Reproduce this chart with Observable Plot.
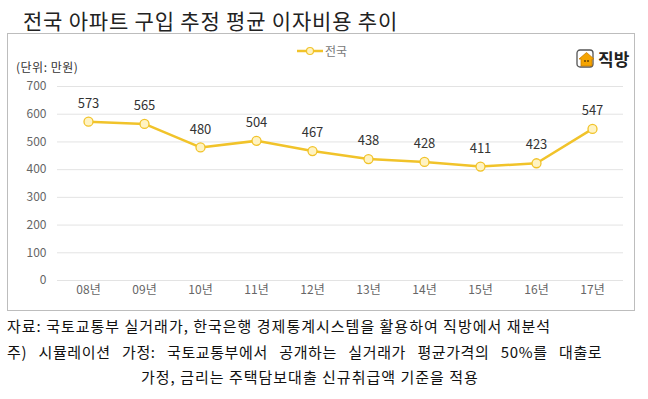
<!DOCTYPE html>
<html>
<head>
<meta charset="utf-8">
<script src="https://cdn.jsdelivr.net/npm/d3@7"></script>
<script src="https://cdn.jsdelivr.net/npm/@observablehq/plot@0.6"></script>
<style>
  html, body { margin: 0; padding: 0; background: #fff; }
  body { width: 648px; height: 399px; position: relative; overflow: hidden;
         font-family: "Noto Sans CJK KR", "Noto Sans", sans-serif; color: #222; }
  #title { position: absolute; left: 23px; top: 5px; font-size: 21px; letter-spacing: 0.8px; color: #222; white-space: nowrap; }
  #box { position: absolute; left: 7px; top: 33px; width: 626px; height: 276px; border: 1px solid #bdbdbd; }
  #chart { position: absolute; left: 0; top: 0; }
  #unit { position: absolute; left: 16px; top: 58px; font-size: 12px; color: #333; white-space: nowrap; letter-spacing: 0.5px; }
  #legend { position: absolute; left: 297px; top: 42px; font-size: 12px; color: #777; white-space: nowrap; display: flex; align-items: center; }
  #logo { position: absolute; left: 576px; top: 46px; display: flex; align-items: center; }
  #logo span { font-size: 17px; font-weight: 700; color: #222; margin-left: 3px; }
  .cap { position: absolute; font-size: 15px; color: #111; white-space: nowrap; }
</style>
</head>
<body>
<div id="title">전국 아파트 구입 추정 평균 이자비용 추이</div>
<div id="box"></div>
<div id="chart"></div>
<div id="unit">(단위: 만원)</div>
<div id="legend">
  <svg width="27" height="10"><line x1="0" y1="5" x2="26" y2="5" stroke="#f1c32a" stroke-width="2.5"/><circle cx="13" cy="5" r="3.5" fill="#fff3c2" stroke="#f1c32a" stroke-width="1.2"/></svg>
  <span style="margin-left:1px">전국</span>
</div>
<div id="logo">
  <svg width="19" height="19" viewBox="0 0 19 19">
    <rect x="1" y="1" width="16" height="17" rx="3" fill="#fff" stroke="#555" stroke-width="1.3"/>
    <path d="M3 10 L10.5 3.5 L18 10 L16 10 L16 17 L5 17 L5 10 Z" fill="#f5a400" stroke="#c97d00" stroke-width="0.8"/>
    <circle cx="9" cy="12" r="0.9" fill="#5a3a00"/><circle cx="12" cy="12" r="0.9" fill="#5a3a00"/>
  </svg>
  <span>직방</span>
</div>
<div class="cap" style="left:7px; top:315px; letter-spacing:1px;">자료: 국토교통부 실거래가, 한국은행 경제통계시스템을 활용하여 직방에서 재분석</div>
<div class="cap" style="left:7px; top:341px; letter-spacing:0.6px; word-spacing:7.5px;">주) 시뮬레이션 가정: 국토교통부에서 공개하는 실거래가 평균가격의 50%를 대출로</div>
<div class="cap" style="left:141px; top:366px; letter-spacing:1px;">가정, 금리는 주택담보대출 신규취급액 기준을 적용</div>
<script>
const years = ["08년","09년","10년","11년","12년","13년","14년","15년","16년","17년"];
const values = [573, 565, 480, 504, 467, 438, 428, 411, 423, 547];
const yTicks = [0, 100, 200, 300, 400, 500, 600, 700];

const data = years.map((y, i) => ({year: y, value: values[i]}));
const gold = "#f1c32a";

const chart = Plot.plot({
  width: 648,
  height: 310,
  marginTop: 86,
  marginBottom: 30,
  marginLeft: 57,
  marginRight: 25,
  style: {background: "transparent", fontFamily: "'Noto Sans CJK KR', sans-serif"},
  x: {type: "point", domain: years, padding: 0.5},
  y: {domain: [0, 700]},
  marks: [
    Plot.ruleY(yTicks, {stroke: "#e3e3e3", strokeWidth: 1}),
    Plot.axisY({ticks: yTicks, tickSize: 0, tickPadding: 11, label: null, fontSize: 12, color: "#666"}),
    Plot.axisX({tickSize: 0, tickPadding: 5, label: null, fontSize: 12, color: "#666"}),
    Plot.line(data, {x: "year", y: "value", stroke: gold, strokeWidth: 2.5}),
    Plot.dot(data, {x: "year", y: "value", r: 4.5, fill: "#fff3c2", stroke: gold, strokeWidth: 1.3}),
    Plot.text(data, {x: "year", y: "value", text: d => String(d.value), dy: -18, fontSize: 13, fill: "#333"})
  ]
});
document.getElementById("chart").appendChild(chart);
</script>
</body>
</html>
